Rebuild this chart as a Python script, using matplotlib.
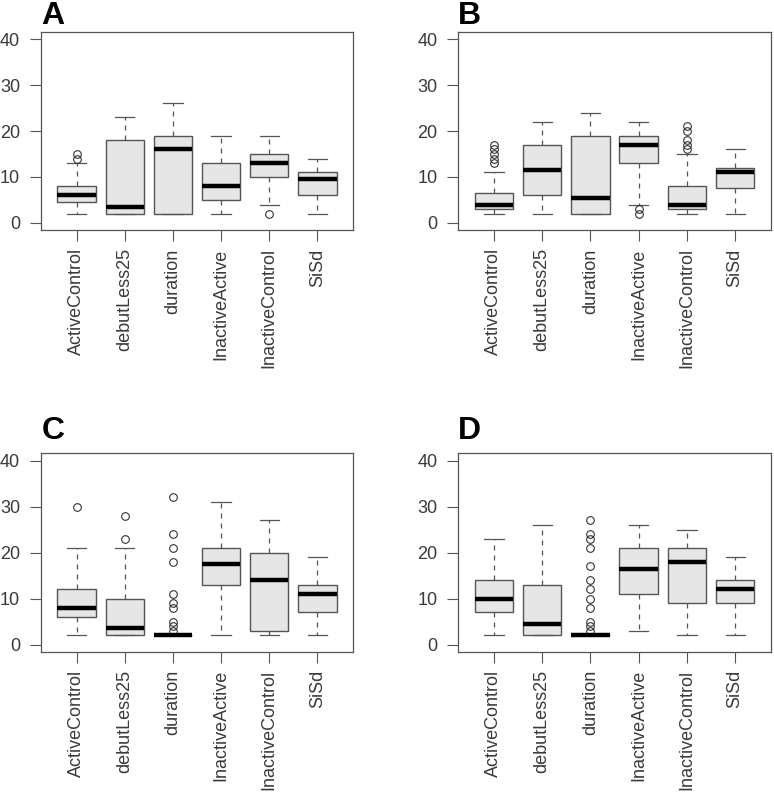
import matplotlib
matplotlib.use("Agg")
import matplotlib.pyplot as plt

plt.rcParams['font.family'] = ['Liberation Sans', 'DejaVu Sans']

groups = ["ActiveControl", "debutLess25", "duration", "InactiveActive", "InactiveControl", "SiSd"]

# five-number summaries per panel: (whisker low, Q1, median, Q3, whisker high)
stats_A = [(2, 4.5, 6, 8, 13), (2, 2, 3.5, 18, 23), (2, 2, 16, 19, 26),
           (2, 5, 8, 13, 19), (4, 10, 13, 15, 19), (2, 6, 9.5, 11, 14)]
fliers_A = [[14, 15], [], [], [], [2], []]

stats_B = [(2, 3, 4, 6.5, 11), (2, 6, 11.5, 17, 22), (2, 2, 5.5, 19, 24),
           (4, 13, 17, 19, 22), (2, 3, 4, 8, 15), (2, 7.5, 11, 12, 16)]
fliers_B = [[13, 14, 15, 16, 17], [], [], [2, 3], [16, 17, 18, 20, 21], []]

stats_C = [(2, 6, 8, 12, 21), (2, 2, 3.5, 10, 21), (2, 2, 2, 2, 2),
           (2, 13, 17.5, 21, 31), (2, 3, 14, 20, 27), (2, 7, 11, 13, 19)]
fliers_C = [[30], [23, 28], [3, 4, 5, 8, 9, 11, 18, 21, 24, 32], [], [], []]

stats_D = [(2, 7, 10, 14, 23), (2, 2, 4.5, 13, 26), (2, 2, 2, 2, 2),
           (3, 11, 16.5, 21, 26), (2, 9, 18, 21, 25), (2, 9, 12, 14, 19)]
fliers_D = [[], [], [3, 4, 5, 8, 10, 12, 14, 17, 21, 23, 24, 27], [], [], []]

panels = [("A", stats_A, fliers_A), ("B", stats_B, fliers_B),
          ("C", stats_C, fliers_C), ("D", stats_D, fliers_D)]

# axes rectangles in figure fractions, and letter positions
rects = [[0.053, 0.710, 0.403, 0.250], [0.592, 0.710, 0.404, 0.250],
         [0.053, 0.179, 0.403, 0.250], [0.592, 0.179, 0.404, 0.250]]
letter_pos = [(0.053, 1 - 24 / 794), (0.591, 1 - 24 / 794),
              (0.054, 1 - 439 / 794), (0.591, 1 - 439 / 794)]

fig = plt.figure(figsize=(7.74, 7.94), dpi=100)
edge = "#555555"
txt = "#3a3a3a"

for (letter, stats, fliers), rect, lp in zip(panels, rects, letter_pos):
    ax = fig.add_axes(rect)
    bx = []
    for name, s, f in zip(groups, stats, fliers):
        bx.append(dict(label=name, whislo=s[0], q1=s[1], med=s[2], q3=s[3], whishi=s[4], fliers=f))
    ax.bxp(bx, positions=range(1, 7), widths=0.8, capwidths=0.4, patch_artist=True,
           boxprops=dict(facecolor="#e6e6e6", edgecolor=edge, linewidth=1.0),
           medianprops=dict(color="black", linewidth=3.2, solid_capstyle="butt"),
           whiskerprops=dict(color=edge, linewidth=0.9, linestyle=(0, (4, 4))),
           capprops=dict(color=edge, linewidth=0.9),
           flierprops=dict(marker="o", markersize=5.5, markerfacecolor="none",
                           markeredgecolor="#333333", markeredgewidth=0.8))
    ax.set_xlim(0.26, 6.74)
    ax.set_ylim(-1.6, 41.6)
    ax.set_yticks([0, 10, 20, 30, 40])
    ax.set_xticks(range(1, 7))
    ax.set_xticklabels(groups, rotation=90)
    ax.tick_params(axis="both", length=8, width=0.8, color=edge, labelcolor=txt,
                   labelsize=13, pad=5)
    ax.tick_params(axis="y", pad=7)
    for sp in ax.spines.values():
        sp.set_color(edge)
        sp.set_linewidth(0.9)
    fig.text(lp[0], lp[1], letter, fontsize=23, fontweight="bold",
             ha="left", va="baseline", color="black")

fig.savefig("out.png", dpi=100)
